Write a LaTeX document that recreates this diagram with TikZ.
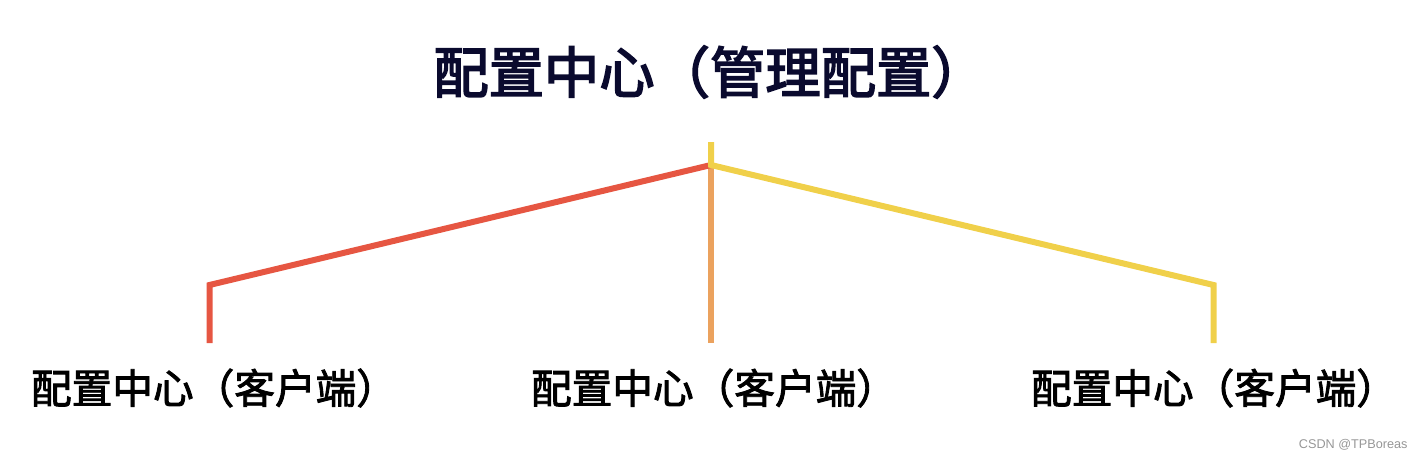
\documentclass[tikz,border=0pt]{standalone}
\usepackage{fontspec}
\newfontfamily\cjkmid{Noto Sans CJK SC}[FakeBold=2.2]
\newfontfamily\cjktitle{Noto Sans CJK SC}[FakeBold=3]
\setsansfont{Liberation Sans}
\definecolor{titleink}{RGB}{10,10,46}
\definecolor{redline}{RGB}{230,86,66}
\definecolor{orangeline}{RGB}{235,162,94}
\definecolor{yellowline}{RGB}{240,208,74}
\definecolor{markgray}{RGB}{150,150,150}
\tikzset{every picture/.style={line width=0.75pt}}
\tikzset{
  branch/.style={line width=4.5pt, line cap=butt, line join=miter},
  clientlabel/.style={font=\cjkmid\fontsize{30.5}{36}\selectfont, inner sep=0pt}
}

\begin{document}
\begin{tikzpicture}[x=0.75pt,y=0.75pt,yscale=-1,xscale=1]
\path[use as bounding box] (0,0) rectangle (1424,460); %set diagram size 1424 x 460

% Text Node
\node[font=\cjktitle\fontsize{41.5}{50}\selectfont, text=titleink, inner sep=0pt] (center) at (710,72) {配置中心（管理配置）};

%Coordinates of the tree
\coordinate (stem) at (711,142);
\coordinate (hub) at (711,165);
\coordinate (lcorner) at (209.5,285);
\coordinate (lfoot) at (209.5,343);
\coordinate (mfoot) at (711,343);
\coordinate (rcorner) at (1213.5,285);
\coordinate (rfoot) at (1213.5,343);

%Straight Lines
\draw[branch, orangeline] (hub) -- (mfoot);
%Straight Lines
\draw[branch, redline] (hub) -- (lcorner) -- (lfoot);
%Straight Lines
\draw[branch, yellowline] (stem) -- (hub) -- (rcorner) -- (rfoot);

% Text Node
\node[clientlabel] (client1) at (214,388) {配置中心（客户端）};
% Text Node
\node[clientlabel] (client2) at (714,388) {配置中心（客户端）};
% Text Node
\node[clientlabel] (client3) at (1214,388) {配置中心（客户端）};

% Text Node
\node[font=\sffamily\fontsize{9.5}{11}\selectfont, text=markgray, anchor=east, inner sep=0pt] (mark) at (1408,445) {CSDN @TPBoreas};

\end{tikzpicture}
\end{document}
